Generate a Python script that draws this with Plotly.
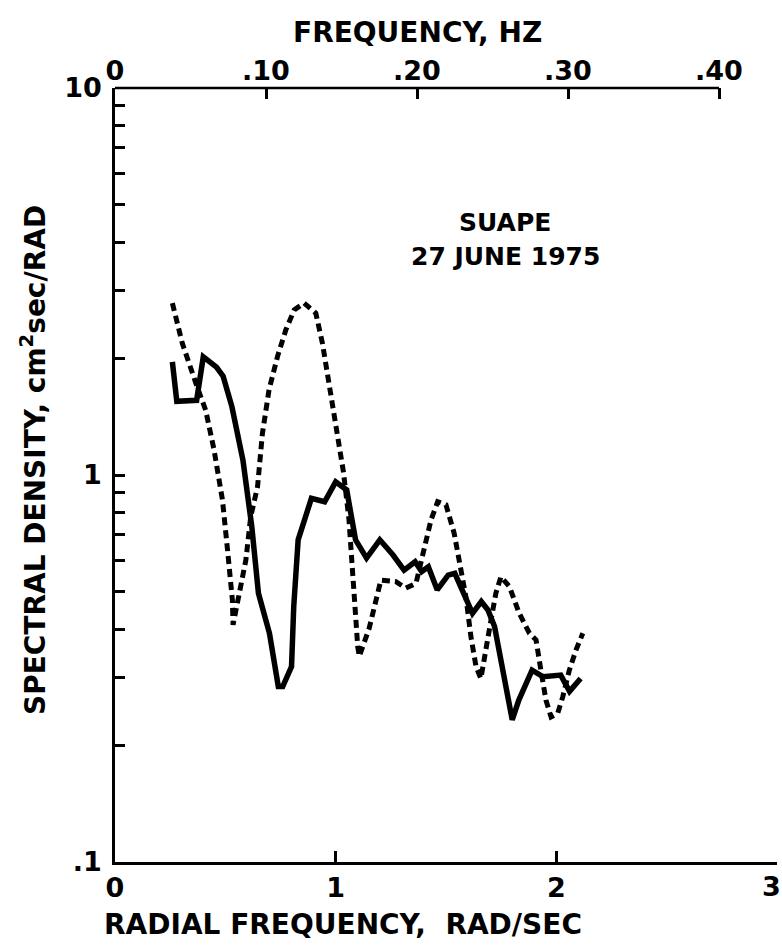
import plotly.graph_objects as go

# ---- data ----
solid_x = [0.26, 0.28, 0.37, 0.40, 0.46, 0.49, 0.53, 0.58, 0.62, 0.65, 0.70, 0.74, 0.76, 0.80,
           0.81, 0.83, 0.89, 0.95, 1.00, 1.05, 1.09, 1.14, 1.20, 1.26, 1.31, 1.36, 1.39, 1.42,
           1.46, 1.51, 1.54, 1.58, 1.62, 1.66, 1.69, 1.72, 1.76, 1.80, 1.83, 1.89, 1.94, 2.02,
           2.06, 2.11]
solid_y = [1.96, 1.55, 1.56, 2.02, 1.90, 1.80, 1.50, 1.09, 0.735, 0.495, 0.39, 0.284, 0.284, 0.32,
           0.457, 0.68, 0.87, 0.853, 0.96, 0.915, 0.68, 0.61, 0.68, 0.621, 0.568, 0.597, 0.563, 0.579,
           0.505, 0.551, 0.557, 0.495, 0.439, 0.471, 0.448, 0.406, 0.313, 0.233, 0.262, 0.313, 0.301, 0.304,
           0.276, 0.298]

dashed_x = [0.26, 0.305, 0.366, 0.411, 0.449, 0.487, 0.51, 0.532, 0.535, 0.562, 0.593, 0.615, 0.646,
            0.668, 0.698, 0.736, 0.774, 0.812, 0.857, 0.91, 0.94, 0.97, 1.00, 1.035, 1.06, 1.075,
            1.085, 1.10, 1.107, 1.152, 1.19, 1.205, 1.273, 1.318, 1.364, 1.401, 1.432, 1.462, 1.50,
            1.537, 1.568, 1.59, 1.613, 1.636, 1.658, 1.681, 1.704, 1.726, 1.749, 1.787, 1.832, 1.878,
            1.908, 1.93, 1.953, 1.976, 2.006, 2.029, 2.059, 2.089, 2.12]
dashed_y = [2.78, 2.19, 1.73, 1.47, 1.16, 0.862, 0.64, 0.475, 0.41, 0.495, 0.603, 0.78, 0.933,
            1.28, 1.66, 2.02, 2.37, 2.67, 2.78, 2.62, 2.19, 1.72, 1.34, 1.02, 0.77, 0.60,
            0.48, 0.36, 0.34, 0.402, 0.495, 0.535, 0.53, 0.51, 0.525, 0.64, 0.765, 0.853, 0.837,
            0.707, 0.568, 0.485, 0.382, 0.32, 0.298, 0.36, 0.422, 0.495, 0.546, 0.515, 0.439, 0.39,
            0.375, 0.313, 0.262, 0.237, 0.242, 0.267, 0.313, 0.353, 0.39]

x_ticks = [0, 1, 2, 3]
x_ticktext = ["0", "1", "2", "3"]
hz_ticks = [0, 0.1, 0.2, 0.3, 0.4]
hz_ticktext = ["0", ".10", ".20", ".30", ".40"]
y_ticks = [0.1, 1, 10]
y_ticktext = [".1", "1", "10"]
y_minor = [0.2, 0.3, 0.4, 0.5, 0.6, 0.7, 0.8, 0.9, 2, 3, 4, 5, 6, 7, 8, 9]

FONT = "DejaVu Sans"
fnt = dict(family=FONT, size=27, color="black", weight="bold")
tfnt = dict(family=FONT, size=28, color="black", weight="bold")
lfnt = dict(family=FONT, size=25, color="black", weight="bold")

# plot box in pixels
L, R, T, B = 115, 777, 88, 862
W, H = 782, 952
pw, ph = R - L, B - T


def px(x):
    return (x - L) / pw


def py(y):
    return (B - y) / ph


fig = go.Figure()
fig.add_trace(go.Scatter(x=solid_x, y=solid_y, mode="lines",
                         line=dict(color="black", width=5.5), showlegend=False))
fig.add_trace(go.Scatter(x=dashed_x, y=dashed_y, mode="lines",
                         line=dict(color="black", width=5, dash="8px,5px"), showlegend=False))
# invisible trace to activate the top (Hz) axis
fig.add_trace(go.Scatter(x=[0, 0.4], y=[1, 1], xaxis="x2", mode="lines",
                         line=dict(width=0), hoverinfo="skip", showlegend=False, opacity=0))

axis_common = dict(showgrid=False, zeroline=False, ticks="inside", tickcolor="black",
                   tickwidth=2.5, tickfont=fnt)

hz_max = 0.4 * pw / (719 - L)

fig.update_layout(
    width=W, height=H,
    margin=dict(l=L, r=W - R, t=T, b=H - B),
    paper_bgcolor="white", plot_bgcolor="white",
    xaxis=dict(range=[0, 3], tickvals=x_ticks[:-1], ticktext=x_ticktext[:-1], showline=True,
               linecolor="black", linewidth=2.5, ticklen=11, ticklabelstandoff=0,
               minor=dict(tickvals=x_ticks[-1:], ticks="inside", ticklen=11, tickwidth=2.5,
                          tickcolor="black", showgrid=False),
               **axis_common),
    xaxis2=dict(range=[0, hz_max], overlaying="x", side="top", anchor="y",
                tickvals=hz_ticks, ticktext=hz_ticktext, showline=False, ticklen=11,
                ticklabelstandoff=2, **axis_common),
    yaxis=dict(type="log", range=[-1, 1], tickvals=y_ticks, ticktext=y_ticktext,
               showline=True, linecolor="black", linewidth=2.5, ticklen=10,
               ticklabelstandoff=5,
               minor=dict(tickvals=y_minor, ticks="inside", ticklen=10, tickwidth=2.5,
                          tickcolor="black", showgrid=False),
               **axis_common),
    shapes=[dict(type="line", xref="x2", yref="paper", x0=0, x1=0.4, y0=1, y1=1,
                 line=dict(color="black", width=2.5))],
    annotations=[
        # last x tick label drawn as an annotation so it is not dropped at the page edge
        dict(text=x_ticktext[-1], xref="x", yref="paper", x=x_ticks[-1], y=py(886),
             showarrow=False, font=fnt, xanchor="right", yanchor="middle", xshift=6),
        dict(text="FREQUENCY, HZ", xref="paper", yref="paper", x=px(417), y=py(33),
             showarrow=False, font=tfnt, xanchor="center", yanchor="middle"),
        dict(text="RADIAL FREQUENCY,  RAD/SEC", xref="paper", yref="paper", x=px(343), y=py(925),
             showarrow=False, font=tfnt, xanchor="center", yanchor="middle"),
        dict(text="SPECTRAL DENSITY, cm<sup>2</sup>sec/RAD", xref="paper", yref="paper",
             x=px(33), y=py(460), textangle=-90, showarrow=False, font=tfnt,
             xanchor="center", yanchor="middle"),
        dict(text="SUAPE", xref="paper", yref="paper", x=px(505), y=py(222),
             showarrow=False, font=lfnt, xanchor="center", yanchor="middle"),
        dict(text="27 JUNE 1975", xref="paper", yref="paper", x=px(505), y=py(256),
             showarrow=False, font=lfnt, xanchor="center", yanchor="middle"),
    ],
)

fig.write_html("out.html")
